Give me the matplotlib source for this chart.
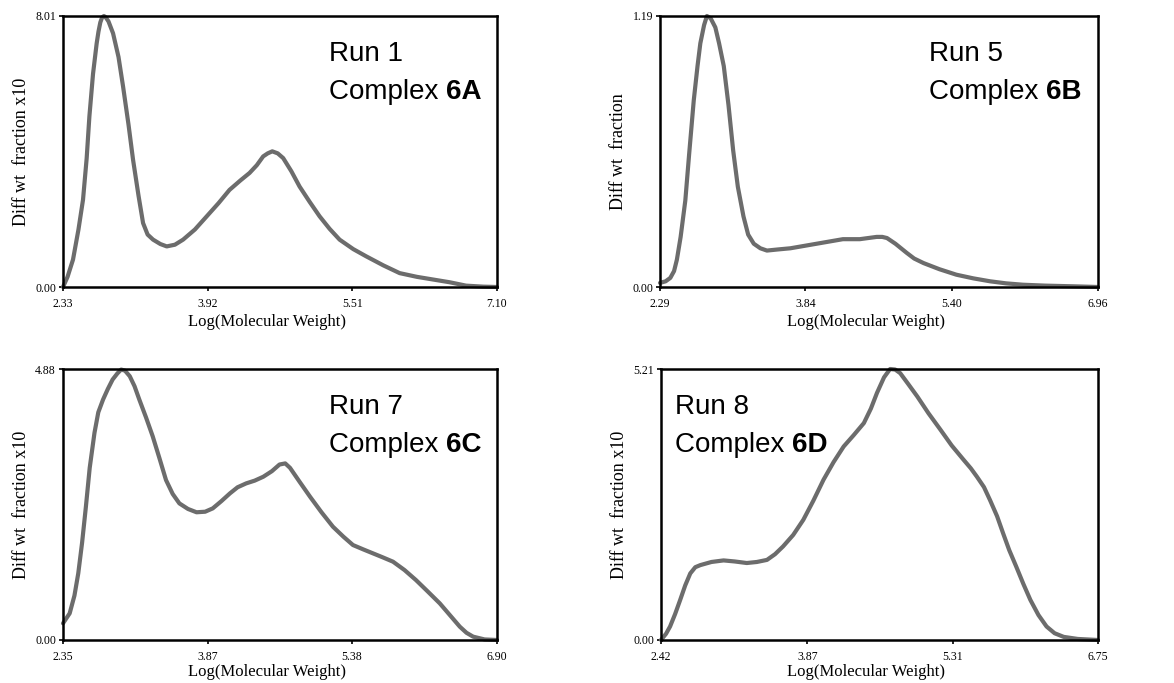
import matplotlib
matplotlib.use("Agg")
import matplotlib.pyplot as plt

# ---- data ----
run1_x = [2.33, 2.38, 2.44, 2.50, 2.55, 2.59, 2.62, 2.66, 2.70, 2.72, 2.74, 2.76, 2.78, 2.80, 2.83, 2.88, 2.94, 2.99, 3.05, 3.10, 3.16, 3.21, 3.26,
          3.32, 3.40, 3.47, 3.56, 3.65, 3.78, 3.91, 4.04, 4.16, 4.28, 4.38, 4.46, 4.53, 4.58, 4.63, 4.69, 4.75, 4.84,
          4.93, 5.04, 5.15, 5.26, 5.37, 5.52, 5.66, 5.85, 6.03, 6.22, 6.40, 6.58, 6.76, 6.95, 7.10]
run1_y = [0.00, 0.30, 0.81, 1.70, 2.58, 3.80, 5.04, 6.30, 7.20, 7.55, 7.82, 7.97, 8.01, 7.97, 7.85, 7.50, 6.80, 5.93, 4.80, 3.76, 2.70, 1.89, 1.55,
          1.40, 1.27, 1.20, 1.25, 1.40, 1.70, 2.09, 2.48, 2.87, 3.15, 3.37, 3.60, 3.86, 3.95, 4.01, 3.95, 3.81, 3.42,
          2.97, 2.52, 2.09, 1.72, 1.40, 1.12, 0.91, 0.64, 0.41, 0.30, 0.22, 0.14, 0.04, 0.01, 0.00]

run5_x = [2.29, 2.35, 2.40, 2.44, 2.47, 2.51, 2.56, 2.60, 2.65, 2.69, 2.72, 2.76, 2.79, 2.83, 2.88, 2.92, 2.97, 3.02, 3.07,
          3.12, 3.18, 3.23, 3.29, 3.36, 3.43, 3.55, 3.68, 3.82, 3.96, 4.10, 4.24, 4.33, 4.42, 4.51, 4.60, 4.66, 4.71,
          4.80, 4.92, 5.00, 5.10, 5.27, 5.45, 5.63, 5.81, 5.98, 6.16, 6.40, 6.70, 6.96]
run5_y = [0.018, 0.025, 0.04, 0.07, 0.12, 0.22, 0.38, 0.58, 0.82, 0.97, 1.07, 1.15, 1.19, 1.18, 1.14, 1.07, 0.97, 0.80, 0.60,
          0.44, 0.31, 0.23, 0.19, 0.17, 0.16, 0.165, 0.17, 0.18, 0.19, 0.20, 0.21, 0.21, 0.21, 0.215, 0.22, 0.22, 0.215,
          0.19, 0.15, 0.125, 0.105, 0.078, 0.054, 0.038, 0.025, 0.016, 0.01, 0.006, 0.003, 0.0]

run7_x = [2.35, 2.42, 2.47, 2.51, 2.55, 2.59, 2.63, 2.68, 2.72, 2.77, 2.82, 2.87, 2.92, 2.96, 3.00, 3.05, 3.10, 3.15, 3.22,
          3.29, 3.36, 3.43, 3.50, 3.57, 3.66, 3.75, 3.84, 3.92, 4.01, 4.10, 4.18, 4.27, 4.36, 4.45, 4.54, 4.62, 4.68,
          4.73, 4.83, 4.94, 5.06, 5.18, 5.29, 5.39, 5.50, 5.60, 5.70, 5.81, 5.93, 6.05, 6.17, 6.30, 6.41, 6.51, 6.58,
          6.65, 6.77, 6.90]
run7_y = [0.30, 0.48, 0.80, 1.20, 1.75, 2.40, 3.10, 3.73, 4.10, 4.33, 4.52, 4.69, 4.80, 4.87, 4.85, 4.75, 4.57, 4.33, 4.01,
          3.67, 3.28, 2.88, 2.63, 2.46, 2.36, 2.30, 2.31, 2.37, 2.50, 2.64, 2.75, 2.82, 2.87, 2.94, 3.04, 3.16, 3.18,
          3.10, 2.85, 2.58, 2.30, 2.04, 1.86, 1.71, 1.63, 1.56, 1.49, 1.41, 1.26, 1.08, 0.88, 0.66, 0.44, 0.24, 0.13,
          0.06, 0.01, 0.00]

run8_x = [2.42, 2.47, 2.51, 2.56, 2.61, 2.66, 2.71, 2.76, 2.81, 2.92, 3.04, 3.15, 3.27, 3.37, 3.47, 3.55, 3.63, 3.73,
          3.83, 3.93, 4.03, 4.13, 4.23, 4.33, 4.43, 4.50, 4.56, 4.63, 4.69, 4.74, 4.79, 4.87, 4.96, 5.07, 5.19, 5.30,
          5.42, 5.49, 5.55, 5.62, 5.68, 5.75, 5.81, 5.87, 5.94, 6.01, 6.08, 6.16, 6.24, 6.32, 6.41, 6.55, 6.75]
run8_y = [0.00, 0.12, 0.26, 0.50, 0.77, 1.05, 1.28, 1.40, 1.44, 1.50, 1.53, 1.51, 1.48, 1.50, 1.54, 1.65, 1.80, 2.02,
          2.31, 2.68, 3.08, 3.42, 3.72, 3.94, 4.17, 4.45, 4.75, 5.05, 5.21, 5.20, 5.13, 4.92, 4.68, 4.36, 4.04, 3.74,
          3.46, 3.30, 3.14, 2.94, 2.69, 2.38, 2.05, 1.73, 1.41, 1.08, 0.77, 0.48, 0.26, 0.13, 0.06, 0.02, 0.00]

panels = [
    dict(x=run1_x, y=run1_y, xticks=[2.33, 3.92, 5.51, 7.10], ymax=8.01,
         ylabel="Diff wt  fraction x10", run="Run 1", cplx="6A"),
    dict(x=run5_x, y=run5_y, xticks=[2.29, 3.84, 5.40, 6.96], ymax=1.19,
         ylabel="Diff wt  fraction", run="Run 5", cplx="6B"),
    dict(x=run7_x, y=run7_y, xticks=[2.35, 3.87, 5.38, 6.90], ymax=4.88,
         ylabel="Diff wt  fraction x10", run="Run 7", cplx="6C"),
    dict(x=run8_x, y=run8_y, xticks=[2.42, 3.87, 5.31, 6.75], ymax=5.21,
         ylabel="Diff wt  fraction x10", run="Run 8", cplx="6D"),
]

W, H = 1174, 683
fig = plt.figure(figsize=(W / 100, H / 100), dpi=100)
fig.patch.set_facecolor("white")

# axes boxes in pixels: left, top, right, bottom
boxes = [(63, 16, 497, 287), (660, 16, 1098, 287), (63, 369, 497, 640), (661, 369, 1098, 640)]
# text anchor in pixels (left x, baseline of first line)
text_pos = [(329, 61), (929, 61), (329, 414), (675, 414)]
xlabel_y = [-0.10, -0.10, -0.088, -0.088]

serif = ["Liberation Serif", "DejaVu Serif"]
sans = ["Liberation Sans", "DejaVu Sans"]

for p, (l, t, r, b), (tx, ty), xly in zip(panels, boxes, text_pos, xlabel_y):
    ax = fig.add_axes([l / W, (H - b) / H, (r - l) / W, (b - t) / H])
    ax.plot(p["x"], p["y"], color="#6c6c6c", lw=3.0, solid_capstyle="round", solid_joinstyle="round", clip_on=False)
    ax.set_xlim(p["xticks"][0], p["xticks"][-1])
    ax.set_ylim(0, p["ymax"])
    ax.set_xticks(p["xticks"])
    ax.set_xticklabels([f"{v:.2f}" for v in p["xticks"]], family=serif, fontsize=8.5)
    ax.set_yticks([0, p["ymax"]])
    ax.set_yticklabels(["0.00", f"{p['ymax']:.2f}"], family=serif, fontsize=8.5)
    ax.tick_params(axis="x", direction="out", length=3, width=1.2, pad=5)
    ax.tick_params(axis="y", direction="out", length=3, width=1.2, pad=2)
    for s in ax.spines.values():
        s.set_linewidth(1.8)
    ax.set_xlabel("Log(Molecular Weight)", family=serif, fontsize=12, labelpad=2)
    ax.xaxis.set_label_coords(0.47, xly)
    ax.set_ylabel(p["ylabel"], family=serif, fontsize=13, labelpad=4)
    fig.text(tx / W, 1 - ty / H, p["run"], family=sans, fontsize=20, ha="left", va="baseline")
    t1 = fig.text(tx / W, 1 - (ty + 38) / H, "Complex ", family=sans, fontsize=20, ha="left", va="baseline")
    fig.canvas.draw()
    bb = t1.get_window_extent()
    fig.text(bb.x1 / W, 1 - (ty + 38) / H, p["cplx"], family=sans, fontsize=20, fontweight="bold",
             ha="left", va="baseline")

fig.savefig("out.png", dpi=100, facecolor="white")
